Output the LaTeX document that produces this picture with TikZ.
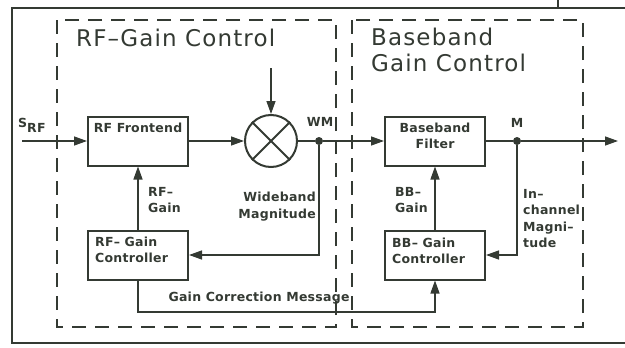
\documentclass[tikz,border=0pt]{standalone}
\usepackage{fontspec}
\setmainfont{DejaVu Sans}
\usetikzlibrary{positioning, arrows.meta, shapes.geometric}
\definecolor{inkgray}{HTML}{343A33}
\tikzset{
	blocknode/.style={
			shape=rectangle,
			draw=inkgray,
			line width=2pt,
			minimum height=49pt,
			minimum width=100pt,
			inner sep=0pt
		},
	mixernode/.style={
			shape=circle,
			draw=inkgray,
			line width=2pt,
			minimum size=52pt,
			inner sep=0pt
		},
	dotnode/.style={
			shape=circle,
			fill=inkgray,
			minimum size=8pt,
			inner sep=0pt
		},
	regionbox/.style={
			draw=inkgray,
			line width=1.4pt,
			dash pattern=on 14pt off 9pt
		},
	sigline/.style={
			draw=inkgray,
			line width=1.3pt
		},
	sigarrow/.style={
			sigline,
			-{Triangle[length=13pt,width=9pt]}
		}
}
\tikzset{
	blocktext/.style={font=\addfontfeatures{LetterSpace=2}\bfseries\fontsize{12.5}{16}\selectfont, text=inkgray, inner sep=0pt}
}
\tikzset{
	labeltext/.style={font=\addfontfeatures{LetterSpace=2}\bfseries\fontsize{12.5}{16.5}\selectfont, text=inkgray, inner sep=0pt}
}
\tikzset{
	titletext/.style={font=\addfontfeatures{LetterSpace=5}\fontsize{23}{26}\selectfont, text=inkgray, inner sep=0pt}
}

\begin{document}
\begin{tikzpicture}[x=1pt, y=-1pt]

              \useasboundingbox (0,0) rectangle (625,348);

              \draw[inkgray, line width=1.8pt] (625,8) -- (12,8) -- (12,343) -- (625,343);
              \draw[inkgray, line width=1.8pt] (558,0) -- (558,8);

              \draw[regionbox] (57,20) rectangle (336,327);
              \draw[regionbox] (352,20) rectangle (583,327);

              \node[titletext, anchor=base west] (rftitle) at (76,46) {RF--Gain Control};
              \node[titletext, anchor=north west, align=left] (bbtitle) at (371,28) {Baseband\\Gain Control};

              \node[blocknode] (frontend) at (138,141) {};
              \node[blocknode] (filter) at (435,141) {};
              \node[blocknode] (rfctrl) at (138,255) {};
              \node[blocknode] (bbctrl) at (435,255) {};
              \node[mixernode] (mixer) at (271,141) {};
              \node[dotnode] (wm) at (319,141) {};
              \node[dotnode] (m) at (517,141) {};

              \coordinate (srf) at (22,141);
              \coordinate (lo) at (271,68);
              \coordinate (out) at (618,141);
              \coordinate (gcmturn) at (435,312);

              \draw[inkgray, line width=2pt] (mixer.north west) -- (mixer.south east);
              \draw[inkgray, line width=2pt] (mixer.north east) -- (mixer.south west);

              \node[blocktext, anchor=north] at (138,123) {RF Frontend};
              \node[blocktext, anchor=north, align=center] at (435,123) {Baseband\\Filter};
              \node[blocktext, anchor=north west, align=left] at (95,237) {RF-- Gain\\Controller};
              \node[blocktext, anchor=north west, align=left] at (392,238) {BB-- Gain\\Controller};

              \node[labeltext, anchor=base west] (srflabel) at (18,127) {S\raisebox{-5pt}{RF}};
              \node[labeltext] (wmlabel) at (320,122) {WM};
              \node[labeltext] (mlabel) at (517,123) {M};
              \node[labeltext, anchor=north west, align=left] (rfgain) at (148,187) {RF--\\Gain};
              \node[labeltext, anchor=north east, align=right] (wideband) at (316,192) {Wideband\\Magnitude};
              \node[labeltext, anchor=north west, align=left] (bbgain) at (395,187) {BB--\\Gain};
              \node[labeltext, anchor=north west, align=left] (inchannel) at (523,189) {In--\\channel\\Magni--\\tude};
              \node[labeltext] (gcmlabel) at (259,298) {Gain Correction Message};

              \draw[sigarrow] (srf) -- (frontend);
              \draw[sigarrow] (frontend) -- (mixer);
              \draw[sigarrow] (lo) -- (mixer);
              \draw[sigline] (mixer) -- (wm);
              \draw[sigarrow] (wm) -- (filter);
              \draw[sigline] (filter) -- (m);
              \draw[sigarrow] (m) -- (out);
              \draw[sigarrow] (wm) |- (rfctrl);
              \draw[sigarrow] (m) |- (bbctrl);
              \draw[sigarrow] (rfctrl) -- (frontend);
              \draw[sigarrow] (bbctrl) -- (filter);
              \draw[sigarrow] (rfctrl) |- (gcmturn) -- (bbctrl);

            \end{tikzpicture}
\end{document}
